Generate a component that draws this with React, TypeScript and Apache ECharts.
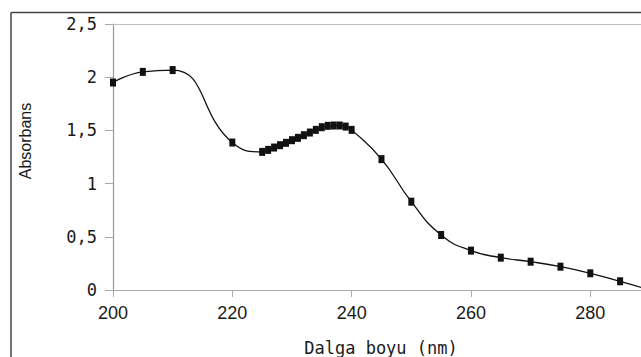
import React, { useEffect, useRef } from "react";
import * as echarts from "echarts";

const wavelengths = [
  200, 205, 210, 220, 225, 226, 227, 228, 229, 230, 231, 232, 233, 234, 235,
  236, 237, 238, 239, 240, 245, 250, 255, 260, 265, 270, 275, 280, 285, 290,
];
const absorbance = [
  1.95, 2.05, 2.067, 1.386, 1.298, 1.317, 1.339, 1.361, 1.383, 1.408, 1.43,
  1.455, 1.48, 1.505, 1.53, 1.543, 1.546, 1.546, 1.536, 1.505, 1.23, 0.83,
  0.517, 0.37, 0.304, 0.266, 0.219, 0.157, 0.082, 0.0,
];
const xTicks = [200, 220, 240, 260, 280];
const yTickLabels: Record<string, string> = {
  "0": "0",
  "0.5": "0,5",
  "1": "1",
  "1.5": "1,5",
  "2": "2",
  "2.5": "2,5",
};
const xTitle = "Dalga boyu (nm)";
const yTitle = "Absorbans";

export default function App() {
  const ref = useRef<HTMLDivElement>(null);
  useEffect(() => {
    document.body.style.margin = "0";
    if (!ref.current) return;
    const chart = echarts.init(ref.current, null, { renderer: "svg" });
    const data = wavelengths.map((w, i) => [w, absorbance[i]]);
    chart.setOption({
      animation: false,
      backgroundColor: "#ffffff",
      grid: {
        left: 113,
        top: 24,
        right: 0,
        bottom: 67,
        outerBoundsMode: "none",
        containLabel: false,
      },
      xAxis: [
        {
          type: "value",
          min: 200,
          max: 288.5,
          interval: 20,
          name: xTitle,
          nameLocation: "middle",
          nameGap: 49,
          nameTextStyle: {
            fontFamily: "DejaVu Sans Mono",
            fontSize: 17,
            color: "#1a1a1a",
            padding: [0, 0, 0, 8],
          },
          axisLine: { show: true, lineStyle: { color: "#aaaaaa", width: 1.2 } },
          axisTick: { show: true, length: 7, lineStyle: { color: "#aaaaaa" } },
          splitLine: { show: false },
          axisLabel: {
            margin: 14,
            fontFamily: "Liberation Sans",
            fontSize: 18,
            color: "#1a1a1a",
            showMaxLabel: false,
            formatter: (v: number) => (xTicks.includes(v) ? String(v) : ""),
          },
        },
        {
          type: "value",
          position: "top",
          min: 200,
          max: 288.5,
          interval: 20,
          axisLine: { show: true, lineStyle: { color: "#bbbbbb", width: 1.2 } },
          axisTick: { show: false },
          axisLabel: { show: false },
          splitLine: { show: false },
        },
      ],
      yAxis: {
        type: "value",
        min: 0,
        max: 2.5,
        interval: 0.5,
        axisLine: { show: true, lineStyle: { color: "#999999", width: 1.2 } },
        axisTick: { show: true, length: 8, lineStyle: { color: "#aaaaaa" } },
        splitLine: { show: false },
        axisLabel: {
          margin: 16,
          fontFamily: "DejaVu Sans Mono",
          fontSize: 17,
          color: "#1a1a1a",
          formatter: (v: number) => yTickLabels[String(v)] ?? String(v),
        },
      },
      graphic: [
        {
          type: "line",
          shape: { x1: 11, y1: 12.5, x2: 641, y2: 12.5 },
          style: { stroke: "#444444", lineWidth: 1.5 },
          silent: true,
        },
        {
          type: "line",
          shape: { x1: 11, y1: 12.5, x2: 11, y2: 357 },
          style: { stroke: "#444444", lineWidth: 1.5 },
          silent: true,
        },
        {
          type: "text",
          x: 25,
          y: 141,
          rotation: Math.PI / 2,
          style: {
            text: yTitle,
            fontFamily: "Liberation Sans",
            fontSize: 16,
            fill: "#1a1a1a",
            align: "center",
            verticalAlign: "middle",
          },
        },
      ],
      series: [
        {
          type: "line",
          data,
          smooth: 0.5,
          clip: true,
          symbol: "rect",
          symbolSize: [6, 8],
          showAllSymbol: true,
          lineStyle: { color: "#111111", width: 1.3 },
          itemStyle: { color: "#111111" },
        },
      ],
    });
    return () => chart.dispose();
  }, []);
  return <div ref={ref} style={{ width: 641, height: 357 }} />;
}
